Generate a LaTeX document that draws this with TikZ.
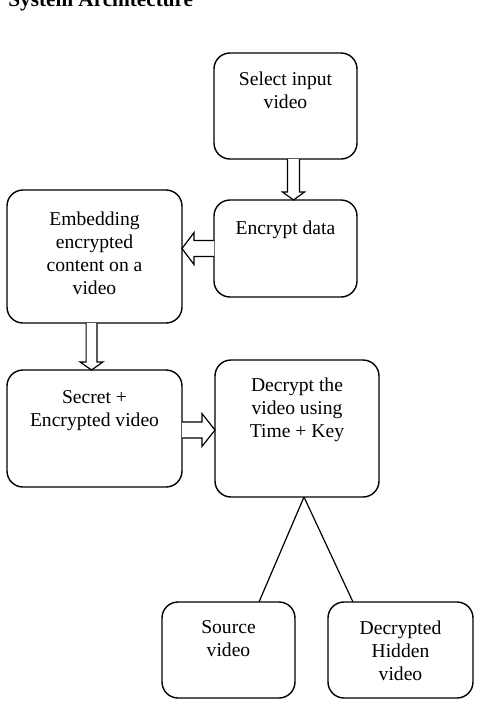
\documentclass[tikz,border=0pt]{standalone}
\usepackage{fontspec}
\setmainfont{Liberation Serif}
\usetikzlibrary{calc}

% hollow block arrow: shaft half width, head half width, head length, from, tip
\newcommand{\blockarr}[5]{%
  \coordinate (hb) at ($(#5)!#3!(#4)$);
  \draw[arrline] ($(#4)!#1!90:(#5)$) -- ($(hb)!#1!-90:(#4)$) -- ($(hb)!#2!-90:(#4)$)
    -- (#5) -- ($(hb)!#2!90:(#4)$) -- ($(hb)!#1!90:(#4)$) -- ($(#4)!#1!-90:(#5)$);
}

\begin{document}
\begin{tikzpicture}[x=0.5pt, y=-0.5pt, font=\fontsize{9.8}{11.5}\selectfont,
  stage/.style={draw, line width=0.7pt, rounded corners=8pt, inner sep=0pt, outer sep=0pt},
  caption/.style={anchor=north, inner sep=0pt, align=center},
  arrline/.style={draw, line width=0.6pt, line join=miter, fill=white},
  branch/.style={draw, line width=0.6pt}]
\useasboundingbox (0,0) rectangle (483,709);
\node[anchor=base west, inner sep=0pt, font=\bfseries\fontsize{10.6}{12}\selectfont] (ttl) at (8,6) {System Architecture};
% boxes
\node[stage, minimum width=71.5pt, minimum height=53pt] (sel) at (285.5,106) {};
\node[stage, minimum width=71.5pt, minimum height=48.5pt] (enc) at (285.5,248.5) {};
\node[stage, minimum width=87.5pt, minimum height=66.5pt] (emb) at (94.5,256.5) {};
\node[stage, minimum width=87.5pt, minimum height=58.5pt] (sec) at (94.5,428.5) {};
\node[stage, minimum width=82pt, minimum height=68.5pt] (dec) at (297,428.5) {};
\node[stage, minimum width=66.5pt, minimum height=48pt] (src) at (228.5,650) {};
\node[stage, minimum width=72.5pt, minimum height=48pt] (hid) at (400.5,650) {};
% texts
\node[caption] (sel-t) at ($(sel.north)+(0,18)$) {Select input\\video};
\node[caption] (enc-t) at ($(enc.north)+(0,20)$) {Encrypt data};
\node[caption] (emb-t) at ($(emb.north)+(0,21)$) {Embedding\\encrypted\\content on a\\video};
\node[caption] (sec-t) at ($(sec.north)+(0,20)$) {Secret +\\Encrypted video};
\node[caption] (dec-t) at ($(dec.north)+(0,17)$) {Decrypt the\\video using\\Time + Key};
\node[caption] (src-t) at ($(src.north)+(0,18)$) {Source\\video};
\node[caption] (hid-t) at ($(hid.north)+(0,18)$) {Decrypted\\Hidden\\video};
% block arrows
\coordinate (a1s) at ($(sel.south)+(8,0)$);
\coordinate (a1e) at ($(enc.north)+(8,0)$);
\blockarr{3pt}{5.5pt}{4pt}{a1s}{a1e}
\coordinate (a2s) at (enc.west);
\coordinate (a2e) at (emb.east |- enc.west);
\blockarr{4pt}{8pt}{6pt}{a2s}{a2e}
\coordinate (a3s) at ($(emb.south)+(-3,0)$);
\coordinate (a3e) at ($(sec.north)+(-3,0)$);
\blockarr{2.7pt}{5.7pt}{4pt}{a3s}{a3e}
\coordinate (a4s) at ($(sec.east)+(0,1.5)$);
\coordinate (a4e) at ($(dec.west)+(0,1.5)$);
\blockarr{4pt}{8.2pt}{6.5pt}{a4s}{a4e}
% branches
\coordinate (fork) at ($(dec.south)+(7,0)$);
\draw[branch] (fork) -- ($(src.north)+(30.5,0)$);
\draw[branch] (fork) -- ($(hid.north)+(-47.5,0)$);
\end{tikzpicture}
\end{document}
